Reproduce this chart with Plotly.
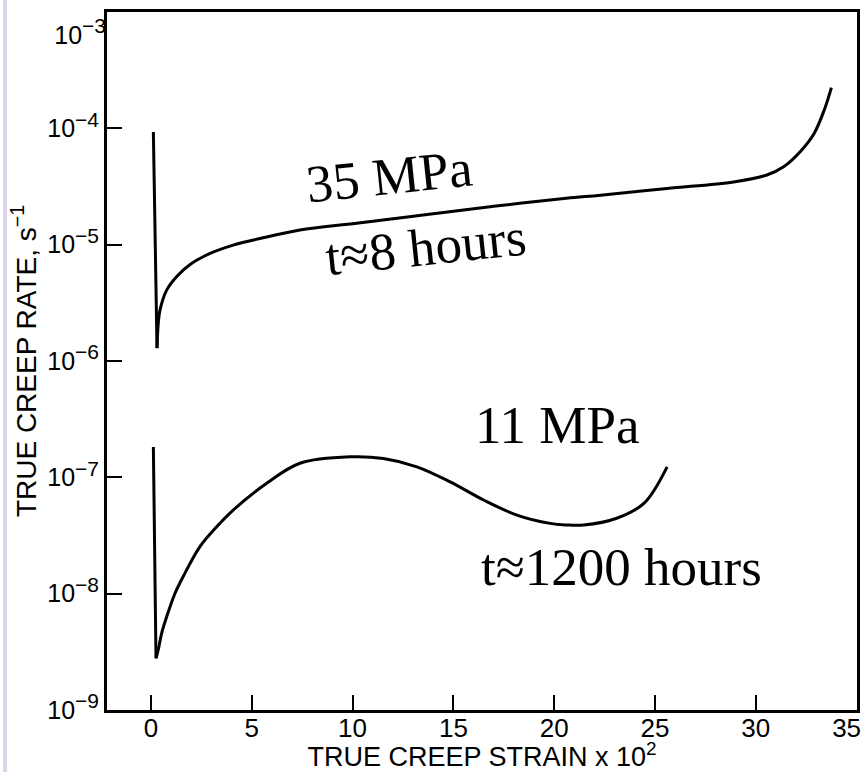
import plotly.graph_objects as go

# ---- data ----
strain_35 = [0.12, 0.30, 0.36, 0.45, 0.78, 1.27, 1.94, 2.93, 4.08, 5.41, 7.39, 10.2,
             13.5, 17.0, 20.6, 22.3, 25.6, 28.9, 30.55, 31.38, 32.2, 32.9, 33.4, 33.75]
rate_35 = [9.33e-5, 1.29e-6, 2.09e-6, 2.75e-6, 4.07e-6, 5.30e-6, 6.76e-6, 8.41e-6,
           9.93e-6, 1.13e-5, 1.34e-5, 1.53e-5, 1.80e-5, 2.14e-5, 2.51e-5, 2.67e-5,
           3.05e-5, 3.47e-5, 3.98e-5, 4.68e-5, 6.31e-5, 9.12e-5, 1.45e-4, 2.25e-4]

strain_11 = [0.12, 0.25, 0.36, 0.53, 0.78, 1.19, 1.6, 2.43, 3.26, 4.08, 5.74, 7.39,
             9.88, 11.53, 13.19, 14.84, 16.5, 18.15, 19.8, 20.6, 21.46, 23.1, 24.45, 25.6]
rate_11 = [1.82e-7, 2.77e-9, 3.27e-9, 4.55e-9, 6.31e-9, 1.00e-8, 1.40e-8, 2.53e-8,
           3.75e-8, 5.22e-8, 8.87e-8, 1.32e-7, 1.50e-7, 1.45e-7, 1.23e-7, 9.12e-8,
           6.37e-8, 4.73e-8, 4.01e-8, 3.89e-8, 3.88e-8, 4.44e-8, 5.96e-8, 1.23e-7]

x_ticks = [0, 5, 10, 15, 20, 25, 30]
x_edge_tick = [35]
y_ticks = [1e-9, 1e-8, 1e-7, 1e-6, 1e-5, 1e-4]
y_exponents = ["−9", "−8", "−7", "−6", "−5", "−4"]
y_edge_tick = [1e-3]
y_edge_exponent = ["−3"]

SUP = '10<sup><span style="font-size:21px">%s</span></sup>'
y_ticktext = [SUP % e for e in y_exponents]
y_edge_ticktext = [SUP % e for e in y_edge_exponent]

labels = [
    dict(text="35 MPa", x=11.8, y=-4.41, angle=-6),
    dict(text="t≈8 hours", x=13.6, y=-5.02, angle=-6),
    dict(text="11 MPa", x=20.15, y=-6.55, angle=0),
    dict(text="t≈1200 hours", x=23.35, y=-7.77, angle=0),
]

X_RANGE = [-2.18, 35.02]
Y_RANGE = [-9.002, -2.998]

fig = go.Figure()
for xs, ys, name in [(strain_35, rate_35, "35 MPa"), (strain_11, rate_11, "11 MPa")]:
    # initial near-vertical drop (sharp cusp); drawn on the overlaid edge axes
    fig.add_trace(go.Scatter(x=xs[:2], y=ys[:2], mode="lines", xaxis="x2", yaxis="y2",
                             line=dict(color="black", width=3),
                             showlegend=False, name=name, hoverinfo="skip"))
    # smooth remainder of the curve
    fig.add_trace(go.Scatter(x=xs[1:], y=ys[1:], mode="lines",
                             line=dict(color="black", width=3, shape="spline", smoothing=1.0),
                             showlegend=False, name=name))

for lab in labels:
    fig.add_annotation(text=lab["text"], x=lab["x"], y=lab["y"], xref="x", yref="y",
                       showarrow=False, textangle=lab["angle"],
                       font=dict(family="Liberation Serif", size=53, color="black"),
                       xanchor="center", yanchor="middle")

# lavender strip at the left edge
fig.add_shape(type="rect", xref="paper", yref="paper",
              x0=(3 - 107) / 750, x1=(7 - 107) / 750, y0=-62 / 698, y1=1 + 12 / 698,
              fillcolor="#DDD5EA", line=dict(width=0), layer="below")

xfont = dict(family="Liberation Sans", size=26, color="black")
yfont = dict(family="Liberation Sans", size=25, color="black")
tick_common = dict(ticks="inside", ticklen=15, tickwidth=2, tickcolor="black",
                   showgrid=False, zeroline=False, automargin=False,
                   ticklabeloverflow="allow")

fig.update_layout(
    width=864, height=772, autosize=False,
    margin=dict(l=107, r=7, t=12, b=62, autoexpand=False),
    paper_bgcolor="white", plot_bgcolor="white",
    xaxis=dict(range=X_RANGE, tickvals=x_ticks, showline=True, linewidth=3,
               linecolor="black", mirror=True, tickfont=xfont, ticklabelstandoff=-7,
               title=dict(text="TRUE CREEP STRAIN x 10<sup>2</sup>", standoff=1,
                          font=dict(family="Liberation Sans", size=27, color="black")),
               **tick_common),
    xaxis2=dict(range=X_RANGE, overlaying="x", anchor="y", side="bottom",
                tickvals=x_edge_tick, showline=False, tickfont=xfont,
                ticklabelstandoff=0, ticklabelshift=-10, **tick_common),
    yaxis=dict(type="log", range=Y_RANGE, tickvals=y_ticks, ticktext=y_ticktext,
               showline=True, linewidth=3, linecolor="black", mirror=True,
               tickfont=yfont,
               title=dict(text="TRUE CREEP RATE, s<sup>−1</sup>", standoff=3,
                          font=dict(family="Liberation Sans", size=28, color="black")),
               **tick_common),
    yaxis2=dict(type="log", range=Y_RANGE, overlaying="y", anchor="x", side="left",
                tickvals=y_edge_tick, ticktext=y_edge_ticktext, showline=False,
                tickfont=yfont, ticklabelshift=23, **tick_common),
)

fig.write_html("out.html")
